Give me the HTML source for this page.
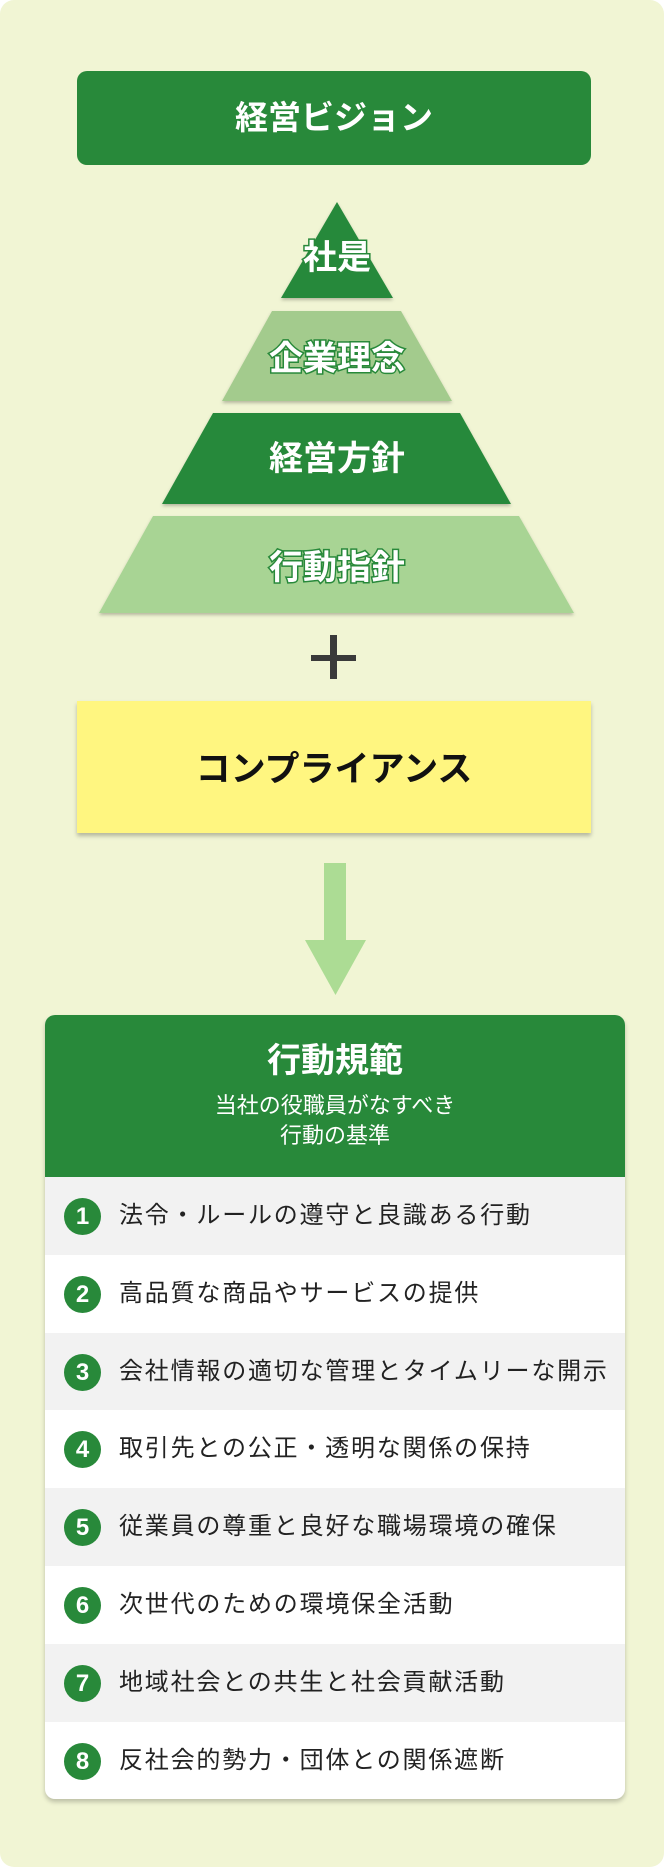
<!DOCTYPE html>
<html><head><meta charset="utf-8"><style>
html,body{margin:0;padding:0;background:#fff;}
body{width:670px;height:1867px;position:relative;overflow:hidden;font-family:"Liberation Sans","Noto Sans CJK JP",sans-serif;}
.bg{position:absolute;left:0;top:0;width:664px;height:1867px;background:#f1f5d4;border-radius:14px;}
.vision{position:absolute;left:77px;top:71px;width:514px;height:94px;background:#28893a;border-radius:10px;color:#fff;font-weight:bold;font-size:33px;text-align:center;line-height:94px;}
.comp{position:absolute;left:77px;top:701px;width:514px;height:132px;background:#fff680;box-shadow:0 3px 4px rgba(0,0,0,.25);color:#111;font-weight:bold;font-size:35px;text-align:center;line-height:138px;}
.card{position:absolute;left:45px;top:1015px;width:580px;height:784px;background:#fff;border-radius:10px;box-shadow:0 3px 5px rgba(0,0,0,.22);overflow:hidden;}
.hd{height:162px;background:#28893a;color:#fff;text-align:center;}
.hd .t{font-size:34px;font-weight:bold;padding-top:26px;line-height:40px;}
.hd .s{font-size:22px;line-height:30px;margin-top:10px;}
.row{height:77.8px;position:relative;}
.row:nth-child(odd){background:#f2f2f2;}
.row .n{position:absolute;left:19px;top:21px;width:37px;height:37px;border-radius:50%;background:#28893a;color:#fff;font-weight:bold;font-size:24px;text-align:center;line-height:37px;}
.row .x{position:absolute;left:74px;top:0;line-height:78px;font-size:24px;color:#222;letter-spacing:1.8px;white-space:nowrap;}
</style></head><body>
<div class="bg"></div>
<div class="vision">経営ビジョン</div>
<svg style="position:absolute;left:0;top:0" width="670" height="1000">
<defs><filter id="sh"><feDropShadow dx="0" dy="2" stdDeviation="1.5" flood-opacity=".25"/></filter></defs>
<polygon points="337,202 393,298 281,298" fill="#28893a" filter="url(#sh)"/>
<polygon points="272,311 401,311 452,401 222,401" fill="#a3cb8d" filter="url(#sh)"/>
<polygon points="213,413 460,413 511,504 162,504" fill="#28893a" filter="url(#sh)"/>
<polygon points="153,516 519,516 574,613 99,613" fill="#a8d494" filter="url(#sh)"/>
<g font-family="Liberation Sans, Noto Sans CJK JP, sans-serif" font-weight="bold" font-size="34" fill="#fff" stroke="#28893a" stroke-width="3" paint-order="stroke" text-anchor="middle">
<text x="337" y="269">社是</text>
<text x="337" y="370">企業理念</text>
<text x="337" y="470">経営方針</text>
<text x="337" y="579">行動指針</text>
</g>
<rect x="311" y="655" width="45" height="6" fill="#3a3a3a"/>
<rect x="330" y="635" width="7" height="44" fill="#3a3a3a"/>
<rect x="324" y="863" width="22" height="78" fill="#acdc94"/>
<polygon points="305,940 366,940 335.5,995" fill="#acdc94"/>
</svg>
<div class="comp">コンプライアンス</div>
<div class="card">
<div class="hd"><div class="t">行動規範</div><div class="s">当社の役職員がなすべき<br>行動の基準</div></div>
<div>
<div class="row"><div class="n">1</div><div class="x">法令・ルールの遵守と良識ある行動</div></div>
<div class="row"><div class="n">2</div><div class="x">高品質な商品やサービスの提供</div></div>
<div class="row"><div class="n">3</div><div class="x">会社情報の適切な管理とタイムリーな開示</div></div>
<div class="row"><div class="n">4</div><div class="x">取引先との公正・透明な関係の保持</div></div>
<div class="row"><div class="n">5</div><div class="x">従業員の尊重と良好な職場環境の確保</div></div>
<div class="row"><div class="n">6</div><div class="x">次世代のための環境保全活動</div></div>
<div class="row"><div class="n">7</div><div class="x">地域社会との共生と社会貢献活動</div></div>
<div class="row"><div class="n">8</div><div class="x">反社会的勢力・団体との関係遮断</div></div>
</div>
</div>
</body></html>
